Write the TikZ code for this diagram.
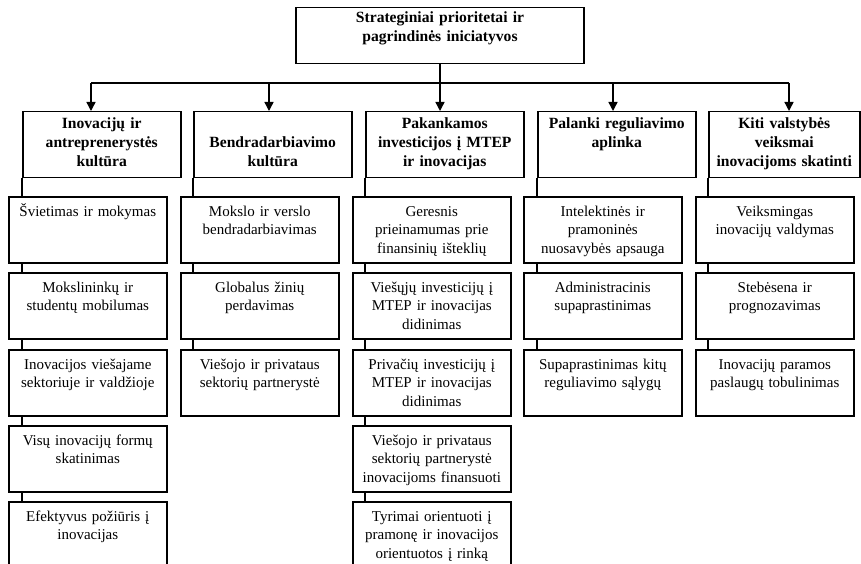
\documentclass[tikz,border=0pt]{standalone}
\usepackage{fontspec}
\setmainfont{Liberation Serif}
\usetikzlibrary{arrows.meta, backgrounds}

\tikzset{
  box/.style={draw, line width=1.5pt, fill=white, inner xsep=2pt, inner ysep=0pt, text width=154pt, align=center, anchor=north west, font=\fontsize{15}{18.2}\selectfont},
  topbox/.style={box, anchor=north, text width=284pt, text height=15pt, text depth=41pt, font=\fontsize{15.6}{18.8}\selectfont\bfseries},
  catbox/.style={box, text height=17pt, text depth=49pt, font=\fontsize{15.6}{18.8}\selectfont\bfseries},
  itembox/.style={box, text height=20pt, text depth=46pt},
  link/.style={line width=1.4pt},
  arr/.style={link, -{Triangle[width=9pt,length=9pt]}}
}

\begin{document}
\begin{tikzpicture}[x=1pt, y=-1pt]
        \useasboundingbox (0,0) rectangle (861,564);

        % top box
        \node[topbox] (top) at (440,7) {Strateginiai prioritetai ir\\pagrindinės iniciatyvos};

        % categories
        \node[catbox] (c1) at (22,111) {Inovacijų ir\\antreprenerystės\\kultūra};
        \node[catbox, text height=36pt, text depth=30pt] (c2) at (193,111) {Bendradarbiavimo\\kultūra};
        \node[catbox] (c3) at (365,111) {Pakankamos\\investicijos į MTEP\\ir inovacijas};
        \node[catbox] (c4) at (537,111) {Palanki reguliavimo\\aplinka};
        \node[catbox, text width=147pt] (c5) at (708,111) {Kiti valstybės\\veiksmai\\inovacijoms skatinti};

        % arrows
        \coordinate (a1) at (91,83);
        \coordinate (a2) at (269,83);
        \coordinate (a4) at (613,83);
        \coordinate (a5) at (789,83);
        \draw[link] (a1) -- (a5);
        \draw[arr] (top.south) -- (top.south |- c3.north);
        \draw[arr] (a1) -- (a1 |- c1.north);
        \draw[arr] (a2) -- (a2 |- c2.north);
        \draw[arr] (a4) -- (a4 |- c4.north);
        \draw[arr] (a5) -- (a5 |- c5.north);

        % column 1
        \node[itembox] (i11) at (8,196) {Švietimas ir mokymas};
        \node[itembox] (i12) at (8,272) {Mokslininkų ir\\studentų mobilumas};
        \node[itembox] (i13) at (8,349) {Inovacijos viešajame\\sektoriuje ir valdžioje};
        \node[itembox] (i14) at (8,425) {Visų inovacijų formų\\skatinimas};
        \node[itembox] (i15) at (8,501) {Efektyvus požiūris į\\inovacijas};

        % column 2
        \node[itembox] (i21) at (180,196) {Mokslo ir verslo\\bendradarbiavimas};
        \node[itembox] (i22) at (180,272) {Globalus žinių\\perdavimas};
        \node[itembox] (i23) at (180,349) {Viešojo ir privataus\\sektorių partnerystė};

        % column 3
        \node[itembox] (i31) at (352,196) {Geresnis\\prieinamumas prie\\finansinių išteklių};
        \node[itembox] (i32) at (352,272) {Viešųjų investicijų į\\MTEP ir inovacijas\\didinimas};
        \node[itembox] (i33) at (352,349) {Privačių investicijų į\\MTEP ir inovacijas\\didinimas};
        \node[itembox] (i34) at (352,425) {Viešojo ir privataus\\sektorių partnerystė\\inovacijoms finansuoti};
        \node[itembox] (i35) at (352,501) {Tyrimai orientuoti į\\pramonę ir inovacijos\\orientuotos į rinką};

        % column 4
        \node[itembox] (i41) at (523,196) {Intelektinės ir\\pramoninės\\nuosavybės apsauga};
        \node[itembox] (i42) at (523,272) {Administracinis\\supaprastinimas};
        \node[itembox] (i43) at (523,349) {Supaprastinimas kitų\\reguliavimo sąlygų};

        % column 5
        \node[itembox] (i51) at (695,196) {Veiksmingas\\inovacijų valdymas};
        \node[itembox] (i52) at (695,272) {Stebėsena ir\\prognozavimas};
        \node[itembox] (i53) at (695,349) {Inovacijų paramos\\paslaugų tobulinimas};

        % spines behind the boxes
        \begin{scope}[on background layer]
        \draw[link] (c1.south west) -- (c1.south west |- i15.north);
        \draw[link] (c2.south west) -- (c2.south west |- i23.north);
        \draw[link] (c3.south west) -- (c3.south west |- i35.north);
        \draw[link] (c4.south west) -- (c4.south west |- i43.north);
        \draw[link] (c5.south west) -- (c5.south west |- i53.north);
        \end{scope}
    \end{tikzpicture}
\end{document}
